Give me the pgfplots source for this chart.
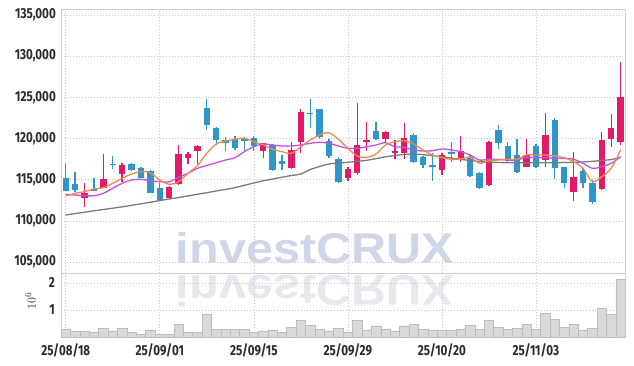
\documentclass[border=0pt]{standalone}
\usepackage{fontspec}
\setmainfont{Fira Sans}[FakeStretch=0.8]
\newfontfamily\wmfont{Liberation Sans}[FakeStretch=1.13]
\usepackage{pgfplots}
\pgfplotsset{compat=1.18}
\usepackage{pgfplotstable}
\definecolor{upc}{HTML}{E3196A}
\definecolor{downc}{HTML}{2E96C8}
\definecolor{ma5}{HTML}{EE8A4E}
\definecolor{ma10}{HTML}{C450E6}
\definecolor{ma60}{HTML}{7A7A7A}
\definecolor{gridc}{HTML}{C6C8DA}
\definecolor{framec}{HTML}{CFCFCF}
\definecolor{volc}{HTML}{D9D9D9}
\definecolor{voledge}{HTML}{BDBDBD}
\definecolor{wm}{HTML}{D0D6EA}
\definecolor{wmr}{HTML}{E7E7ED}
\definecolor{labc}{HTML}{2A2A2A}

\pgfplotstableread{
i o h l c
2 112820 114640 111650 113350
4 114030 118090 113960 115050
6 115730 117000 114690 116750
11 112820 114240 112700 114090
12 114450 119180 114360 118090
13 117680 118370 116910 118120
14 118530 119180 116910 119100
21 118490 119450 117600 119420
24 116470 119540 116270 118600
25 119620 123550 118210 123220
30 115175 116510 114880 116270
31 115780 124280 115580 119220
32 119620 122050 118530 119820
34 119910 120900 119620 120760
35 118290 119820 117520 118530
36 118290 121850 117520 120030
40 116180 118250 115580 118010
42 117600 120350 117120 118490
45 114360 119700 114240 119620
49 116580 119900 116550 118010
51 117400 123070 116510 120430
54 113480 118400 112420 115300
57 113840 120830 113800 119820
58 119910 122950 119010 121320
59 119620 129260 119220 125090
}\uptab

\pgfplotstableread{
i o h l c
0 115200 117000 113600 113650
1 114480 115980 113550 113750
3 113850 115200 113600 113680
5 116950 117920 116300 116850
7 116910 117000 116060 116180
8 116390 116590 115180 115250
9 116060 116180 113400 113430
10 113960 114560 112500 112540
15 123670 124770 121040 121650
16 121250 121370 119200 119830
17 119830 120230 118530 119520
18 119910 120350 118600 118890
19 120000 120230 118400 119700
20 120060 120300 118500 119050
22 119220 119350 116060 116180
23 117310 118000 116180 116910
26 123150 124770 121250 123000
27 123590 123650 120000 120150
28 119700 119900 117680 117920
29 117520 117800 114570 114690
33 120920 122050 119800 119910
37 120430 120640 117070 117190
38 117800 117850 116460 116790
39 116790 118210 114880 116670
41 118330 119540 117190 118210
43 117800 118010 115370 115490
44 115860 116000 113880 114030
46 121040 121650 118700 119500
47 119100 119620 117120 117270
48 118010 119900 115860 115980
50 119100 119300 116400 116600
52 122250 122530 115090 116470
53 116510 116600 114030 114570
55 116060 116390 114030 114570
56 114640 115000 112050 112340
}\downtab

\pgfplotstableread{
i ma5 ma10 ma60 v
0 113027 113233 110720 0.28
1 113354 113148 110890 0.24
2 113549 113063 111060 0.24
3 113876 113063 111230 0.20
4 114034 113354 111388 0.34
5 114568 113961 111546 0.24
6 115175 114568 111715 0.34
7 115697 114969 111898 0.17
8 115977 115054 112080 0.12
9 115855 114884 112274 0.27
10 114969 114763 112468 0.12
11 114447 114763 112662 0.12
12 114763 115297 112844 0.48
13 115782 115782 113039 0.20
14 116705 116389 113233 0.20
15 118210 116729 113427 0.84
16 119339 117069 113634 0.28
17 119704 117397 113828 0.28
18 119910 117676 114046 0.30
19 120031 118405 114326 0.30
20 119619 119012 114605 0.20
21 119218 119339 114872 0.24
22 118696 119218 115090 0.27
23 118405 119097 115309 0.18
24 118210 119097 115515 0.37
25 119012 119218 115697 0.63
26 119825 119424 116244 0.45
27 120432 119546 116608 0.30
28 120711 119424 116911 0.24
29 119910 119097 117033 0.34
30 118817 118817 117118 0.18
31 117883 118817 117239 0.63
32 117725 119012 117361 0.27
33 118125 119218 117567 0.42
34 119218 119497 117785 0.30
35 119619 119012 117955 0.24
36 119740 118939 118065 0.42
37 119339 118611 118114 0.48
38 118611 118490 118053 0.30
39 118004 118526 117931 0.27
40 117676 118732 117798 0.27
41 117482 118611 117640 0.27
42 117518 118405 117482 0.31
43 117725 118004 117336 0.45
44 116996 117397 117215 0.30
45 117312 117482 117142 0.63
46 117397 117482 117093 0.37
47 117482 117397 117069 0.28
48 117482 117397 117069 0.34
49 118004 117725 117069 0.48
50 118004 117676 117069 0.30
51 118004 117676 117069 0.88
52 117883 117603 117069 0.66
53 117676 117603 117093 0.37
54 117191 117482 117118 0.48
55 116389 116996 117154 0.27
56 114763 116389 117239 0.34
57 115370 116584 117336 1.08
58 116389 116996 117458 0.84
59 118611 117798 117700 2.14
}\serie

\begin{document}
\begin{tikzpicture}

\pgfplotsset{
  every axis/.append style={
    scale only axis,
    xmin=-0.5, xmax=59.5,
    xtick={0,10,20,30,40,50},
    grid=major,
    major grid style={gridc, dash pattern=on 1pt off 2pt, line width=0.6pt},
    axis line style={framec, line width=0.8pt},
    tick style={draw=none},
    ticklabel style={font=\fontsize{14.5}{15}\selectfont\bfseries, text=labc},
    /pgf/number format/fixed,
    /pgf/number format/precision=0,
    /pgf/number format/assume math mode=true,
    /pgf/number format/1000 sep={,},
    scaled y ticks=false,
  },
  candle/.style 2 args={draw=none, mark=none, forget plot,
    error bars/.cd, y dir=both, y explicit, error mark=none,
    error bar style={draw=#1, solid, line width=#2}},
}

\begin{axis}[
  name=price, at={(0pt,0pt)}, anchor=south west,
  width=564.3pt, height=264pt,
  ymin=103680, ymax=135730,
  ytick={105000,110000,...,135000},
  xticklabels={},
  yticklabel style={inner sep=0pt, xshift=-5pt},
  clip=false,
]
% watermark (drawn first, behind the data)
\node[anchor=base, text=wm, inner sep=0pt] at (rel axis cs:0.4500,0.0341)
  {\fontsize{43}{43}\wmfont\bfseries investCRUX};
\node[anchor=base, text=wmr, inner sep=0pt] at (rel axis cs:0.4500,-0.0076)
  {\scalebox{1}[-1]{\fontsize{43}{43}\wmfont\bfseries investCRUX}};
% wicks
\addplot[candle={downc}{1.3pt}]
  table[x=i, y expr={(\thisrow{h}+\thisrow{l})/2}, y error expr={(\thisrow{h}-\thisrow{l})/2}] {\downtab};
\addplot[candle={upc}{1.3pt}]
  table[x=i, y expr={(\thisrow{h}+\thisrow{l})/2}, y error expr={(\thisrow{h}-\thisrow{l})/2}] {\uptab};
% bodies
\addplot[candle={downc}{6.4pt}]
  table[x=i, y expr={(\thisrow{o}+\thisrow{c})/2}, y error expr={max(abs(\thisrow{o}-\thisrow{c})/2,60)}] {\downtab};
\addplot[candle={upc}{6.4pt}]
  table[x=i, y expr={(\thisrow{o}+\thisrow{c})/2}, y error expr={max(abs(\thisrow{o}-\thisrow{c})/2,60)}] {\uptab};
% moving averages
\addplot[ma60, line width=1.3pt, smooth, no marks] table[x=i, y=ma60] {\serie};
\addplot[ma10, line width=1.3pt, smooth, no marks] table[x=i, y=ma10] {\serie};
\addplot[ma5, line width=1.3pt, smooth, no marks] table[x=i, y=ma5] {\serie};
\end{axis}

\begin{axis}[
  name=vol, at={(price.south west)}, anchor=north west,
  width=564.3pt, height=64.3pt,
  ymin=0, ymax=2.36,
  ytick={1,2},
  xticklabels={25/08/18,25/09/01,25/09/15,25/09/29,25/10/20,25/11/03},
  xticklabel style={inner sep=0pt, yshift=-6pt},
  yticklabel style={inner sep=0pt, xshift=-6pt},
  ylabel={$10^6$},
  every axis y label/.style={at={(axis description cs:-0.054,0.565)}, rotate=90, anchor=center, font=\fontsize{13}{14}\selectfont, text=labc},
]
\addplot[ybar, bar width=1, fill=volc, draw=voledge, line width=0.5pt] table[x=i, y=v] {\serie};
\end{axis}

\pgfresetboundingbox
\path[use as bounding box] (price.south west) ++(-61pt,-93pt) rectangle ++(634pt,366pt);
\end{tikzpicture}
\end{document}
